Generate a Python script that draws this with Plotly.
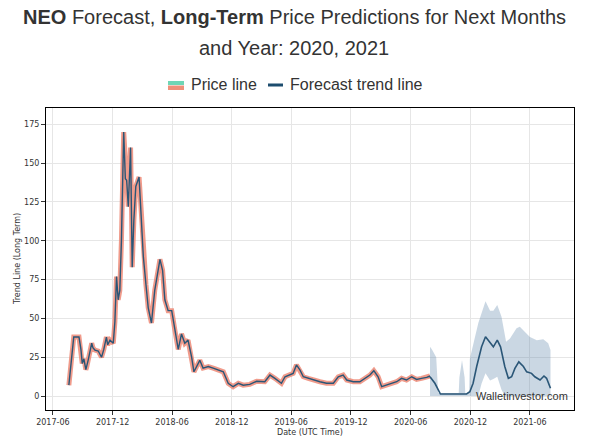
import plotly.graph_objects as go

# ---------------- data ----------------
price_dates = [
    "2017-07-20", "2017-08-04", "2017-08-20", "2017-08-26", "2017-08-30", "2017-09-04",
    "2017-09-10", "2017-09-13", "2017-09-17", "2017-09-22", "2017-09-28", "2017-10-02",
    "2017-10-08", "2017-10-18", "2017-10-23", "2017-10-28", "2017-11-04", "2017-11-12",
    "2017-11-16", "2017-11-23", "2017-12-03", "2017-12-08", "2017-12-13", "2017-12-18",
    "2017-12-23", "2017-12-28", "2018-01-04", "2018-01-09", "2018-01-13", "2018-01-18",
    "2018-01-25", "2018-01-28", "2018-01-30", "2018-02-04", "2018-02-10", "2018-02-20",
    "2018-02-26", "2018-03-05", "2018-03-13", "2018-03-20", "2018-03-30", "2018-04-09",
    "2018-04-25", "2018-05-03", "2018-05-10", "2018-05-20", "2018-05-31", "2018-06-10",
    "2018-06-20", "2018-06-30", "2018-07-10", "2018-07-20", "2018-07-31", "2018-08-07",
    "2018-08-15", "2018-08-25", "2018-09-04", "2018-09-20", "2018-10-05", "2018-10-25",
    "2018-11-05", "2018-11-20", "2018-12-05", "2018-12-21", "2019-01-05", "2019-01-25",
    "2019-02-15", "2019-03-12", "2019-03-28", "2019-04-12", "2019-05-02", "2019-05-13",
    "2019-05-28", "2019-06-07", "2019-06-17", "2019-06-28", "2019-07-08", "2019-07-23",
    "2019-08-07", "2019-08-28", "2019-09-17", "2019-10-08", "2019-10-23", "2019-11-07",
    "2019-11-18", "2019-12-08", "2019-12-28", "2020-01-13", "2020-01-28", "2020-02-09",
    "2020-02-22", "2020-03-04", "2020-03-19", "2020-04-03", "2020-04-19", "2020-05-04",
    "2020-05-19", "2020-06-04", "2020-06-19", "2020-07-04", "2020-07-20", "2020-07-30",
]
price_values = [
    7, 38, 38, 30, 21, 24,
    17, 19, 23, 28, 34, 31,
    29.6, 29, 27, 25, 30, 38,
    33, 36, 34, 48, 77, 62,
    68, 100, 170, 140, 139, 122,
    160, 120, 83, 113, 135, 141,
    120, 90, 72, 57, 47, 68,
    88, 81, 62, 55, 55, 42,
    30, 40, 34, 36, 25, 15.6,
    19, 23, 18, 19, 18, 16.7,
    15.6, 8.2, 6, 8.2, 7, 7.5,
    9.5, 9.2, 13.5, 11.4, 8.2, 12.4,
    13.5, 14.6, 20, 16.7, 12.4, 11.4,
    10.3, 9.2, 8.2, 8.2, 12.4, 13.5,
    10.3, 9.2, 9.2, 11.4, 13.5, 16.3,
    12.4, 6, 7, 8.2, 9.2, 11.4,
    10.3, 12.4, 10.7, 11.4, 12, 12.9,
]

forecast_dates = [
    "2020-07-30", "2020-08-14", "2020-08-31", "2020-09-29", "2020-10-30", "2020-11-19",
    "2020-11-29", "2020-12-09", "2020-12-20", "2021-01-04", "2021-01-16", "2021-01-30",
    "2021-02-09", "2021-02-21", "2021-03-03", "2021-03-16", "2021-03-27", "2021-04-06",
    "2021-04-16", "2021-04-28", "2021-05-12", "2021-05-22", "2021-06-06", "2021-06-16",
    "2021-07-02", "2021-07-14", "2021-07-22", "2021-08-03",
]
forecast_values = [
    12.4, 8.2, 1.3, 1.3, 1.3, 1.3,
    2.8, 8.2, 19, 31.7, 38.2, 34,
    31.7, 36, 31.7, 19, 11.4, 12.4,
    17.8, 22, 19, 15.6, 14.6, 12.4,
    10.3, 12.9, 11.4, 5,
]

band_upper_dates = [
    "2020-07-30", "2020-08-05", "2020-08-18", "2020-08-24", "2020-10-26", "2020-10-28",
    "2020-11-05", "2020-11-13", "2020-11-15", "2020-11-27", "2020-11-29", "2020-12-25",
    "2021-01-16", "2021-01-30", "2021-02-09", "2021-02-21", "2021-03-06", "2021-03-20",
    "2021-04-01", "2021-04-21", "2021-05-01", "2021-05-17", "2021-06-01", "2021-06-22",
    "2021-07-12", "2021-07-27", "2021-08-03",
]
band_upper = [
    31.7, 30, 25, 2, 2, 12,
    23, 12, 2, 2, 24, 47,
    61, 55, 55, 58.6, 51, 35,
    37, 43.6, 44.6, 41.4, 38, 36,
    36.5, 34, 29.6,
]
band_lower_dates = [
    "2020-07-30", "2020-12-25", "2021-01-04", "2021-01-16", "2021-01-30", "2021-02-09",
    "2021-02-21", "2021-03-06", "2021-03-16", "2021-08-03",
]
band_lower = [0, 0, 8, 14.6, 10, 11, 12.4, 4, 0, 0]

y_ticks = [0, 25, 50, 75, 100, 125, 150, 175]
x_tick_dates = ["2017-06-01", "2017-12-01", "2018-06-01", "2018-12-01", "2019-06-01",
                "2019-12-01", "2020-06-01", "2020-12-01", "2021-06-01"]
x_tick_labels = ["2017-06", "2017-12", "2018-06", "2018-12", "2019-06",
                 "2019-12", "2020-06", "2020-12", "2021-06"]

# ---------------- layout helpers (pixel -> paper) ----------------
W, H = 603, 442
L, R, T, B = 46, 574, 108, 410


def px(x):
    return (x - L) / (R - L)


def py(y):
    return (B - y) / (B - T)


TICK_FONT = dict(family="DejaVu Sans", size=8, color="#333333")

fig = go.Figure()

fig.add_trace(go.Scatter(
    x=band_upper_dates + band_lower_dates[::-1],
    y=band_upper + band_lower[::-1],
    fill="toself", fillcolor="rgba(95,135,170,0.33)",
    line=dict(width=0), mode="lines", hoverinfo="skip", showlegend=False,
))
fig.add_trace(go.Scatter(
    x=price_dates, y=price_values, mode="lines",
    line=dict(color="rgba(236,130,110,0.8)", width=5),
    showlegend=False, hoverinfo="skip",
))
fig.add_trace(go.Scatter(
    x=price_dates, y=price_values, mode="lines",
    line=dict(color="#2a5677", width=1.4), name="Price line", showlegend=False,
))
fig.add_trace(go.Scatter(
    x=forecast_dates, y=forecast_values, mode="lines",
    line=dict(color="#2a5677", width=1.6), name="Forecast trend line", showlegend=False,
))

axis_common = dict(
    showgrid=True, gridcolor="#e6e6e6", gridwidth=1,
    showline=True, mirror=True, linecolor="#000000", linewidth=1,
    ticks="outside", ticklen=4, tickwidth=0.8, tickcolor="#333333",
    tickfont=TICK_FONT, zeroline=False,
)

fig.update_layout(
    width=W, height=H, autosize=False,
    margin=dict(l=L, r=W - R, t=T, b=H - B, pad=0),
    paper_bgcolor="white", plot_bgcolor="white",
    showlegend=False,
    xaxis=dict(type="date", range=["2017-05-11", "2021-10-14"],
               tickvals=x_tick_dates, ticktext=x_tick_labels, **axis_common),
    yaxis=dict(range=[-9, 185.5], tickvals=y_ticks,
               ticktext=[str(v) for v in y_ticks], **axis_common),
)

annotations = [
    dict(text="<b>NEO</b> Forecast, <b>Long-Term</b> Price Predictions for Next Months",
         x=px(294), y=py(17), font=dict(family="Liberation Sans", size=20, color="#333333")),
    dict(text="and Year: 2020, 2021",
         x=px(294), y=py(48), font=dict(family="Liberation Sans", size=20, color="#333333")),
    dict(text="Price line", x=px(189), y=py(85), xanchor="left",
         font=dict(family="Liberation Sans", size=16, color="#333333")),
    dict(text="Forecast trend line", x=px(288), y=py(85), xanchor="left",
         font=dict(family="Liberation Sans", size=16, color="#333333")),
    dict(text="Trend Line (Long Term)", x=px(17), y=py(259), textangle=-90,
         font=dict(family="DejaVu Sans", size=8, color="#333333")),
    dict(text="Date (UTC Time)", x=px(310), y=py(432),
         font=dict(family="DejaVu Sans", size=8, color="#333333")),
    dict(text="Walletinvestor.com", x=px(570), y=py(396), xanchor="right",
         font=dict(family="Liberation Sans", size=11, color="#333333")),
]
for a in annotations:
    a.setdefault("xanchor", "center")
    a.update(xref="paper", yref="paper", yanchor="middle", showarrow=False)
fig.update_layout(annotations=annotations)

shapes = [
    dict(type="rect", x0=px(168), x1=px(184), y0=py(85), y1=py(81),
         fillcolor="#6fd6b6", line=dict(width=0)),
    dict(type="rect", x0=px(168), x1=px(184), y0=py(90), y1=py(85.5),
         fillcolor="#f0907a", line=dict(width=0)),
    dict(type="rect", x0=px(268), x1=px(283), y0=py(86.5), y1=py(83.5),
         fillcolor="#1d4d6e", line=dict(width=0)),
]
for s in shapes:
    s.update(xref="paper", yref="paper", layer="above")
fig.update_layout(shapes=shapes)

fig.write_html(
    "out.html",
    config={"displayModeBar": False},
    post_script="document.body.style.margin='0';document.body.style.overflow='hidden';",
)
